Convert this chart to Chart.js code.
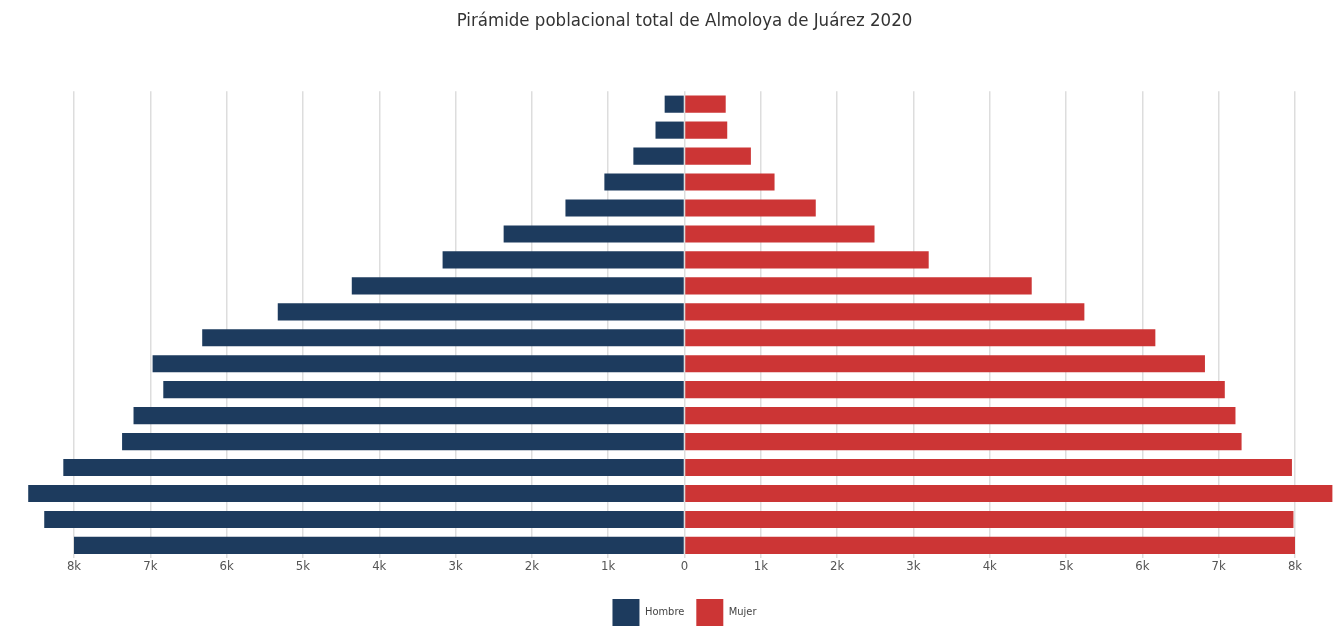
<!DOCTYPE html>
<html>
<head>
<meta charset="utf-8">
<script src="https://cdn.jsdelivr.net/npm/chart.js@4"></script>
<style>
  html, body { margin: 0; padding: 0; background: #ffffff; }
  #wrap { width: 1343px; height: 627px; position: relative; }
</style>
</head>
<body>
<div id="wrap"><canvas id="c"></canvas></div>
<script>
const titleText = "Pirámide poblacional total de Almoloya de Juárez 2020";
const ageGroups = ["85 y más","80-84","75-79","70-74","65-69","60-64","55-59","50-54","45-49","40-44","35-39","30-34","25-29","20-24","15-19","10-14","5-9","0-4"];
const hombre = [260, 380, 670, 1050, 1560, 2370, 3170, 4360, 5330, 6320, 6970, 6830, 7220, 7370, 8140, 8600, 8390, 8000];
const mujer  = [540, 560, 870, 1180, 1720, 2490, 3200, 4550, 5240, 6170, 6820, 7080, 7220, 7300, 7960, 8490, 7980, 8000];
const tickValues = [-8000,-7000,-6000,-5000,-4000,-3000,-2000,-1000,0,1000,2000,3000,4000,5000,6000,7000,8000];

const FONT = "'Liberation Sans Narrow', 'DejaVu Sans Condensed', 'Roboto', sans-serif";

new Chart(document.getElementById('c'), {
  type: 'bar',
  data: {
    labels: ageGroups,
    datasets: [
      { label: 'Hombre', data: hombre.map(v => -v), backgroundColor: '#1d3b5e', borderWidth: 0, clip: false },
      { label: 'Mujer', data: mujer, backgroundColor: '#cc3535', borderWidth: 0, clip: false }
    ]
  },
  options: {
    indexAxis: 'y',
    responsive: true,
    maintainAspectRatio: false,
    animation: false,
    datasets: { bar: { categoryPercentage: 1.0, barPercentage: 0.66 } },
    layout: { padding: { left: 74, right: 48, top: 0, bottom: -9 } },
    plugins: {
      title: {
        display: true,
        text: titleText,
        color: '#333333',
        font: { family: FONT, size: 18.5, weight: 'normal' },
        padding: { top: 10, bottom: 59 }
      },
      legend: {
        position: 'bottom',
        labels: {
          boxWidth: 27, boxHeight: 27,
          color: '#444444',
          font: { family: FONT, size: 11 },
          padding: 12
        }
      },
      tooltip: { enabled: false }
    },
    scales: {
      x: {
        stacked: true,
        min: -8000, max: 8000,
        afterBuildTicks: (axis) => { axis.ticks = tickValues.map(v => ({ value: v })); },
        afterFit: (axis) => { axis.height += 13; },
        ticks: {
          color: '#555555',
          font: { family: FONT, size: 13 },
          padding: 0,
          maxRotation: 0,
          callback: (v) => { const a = Math.abs(v); return a === 0 ? '0' : (a / 1000) + 'k'; }
        },
        grid: { color: '#dddddd', lineWidth: 1.5, drawTicks: false },
        border: { display: false }
      },
      y: {
        stacked: true,
        display: false
      }
    }
  }
});
</script>
</body>
</html>
